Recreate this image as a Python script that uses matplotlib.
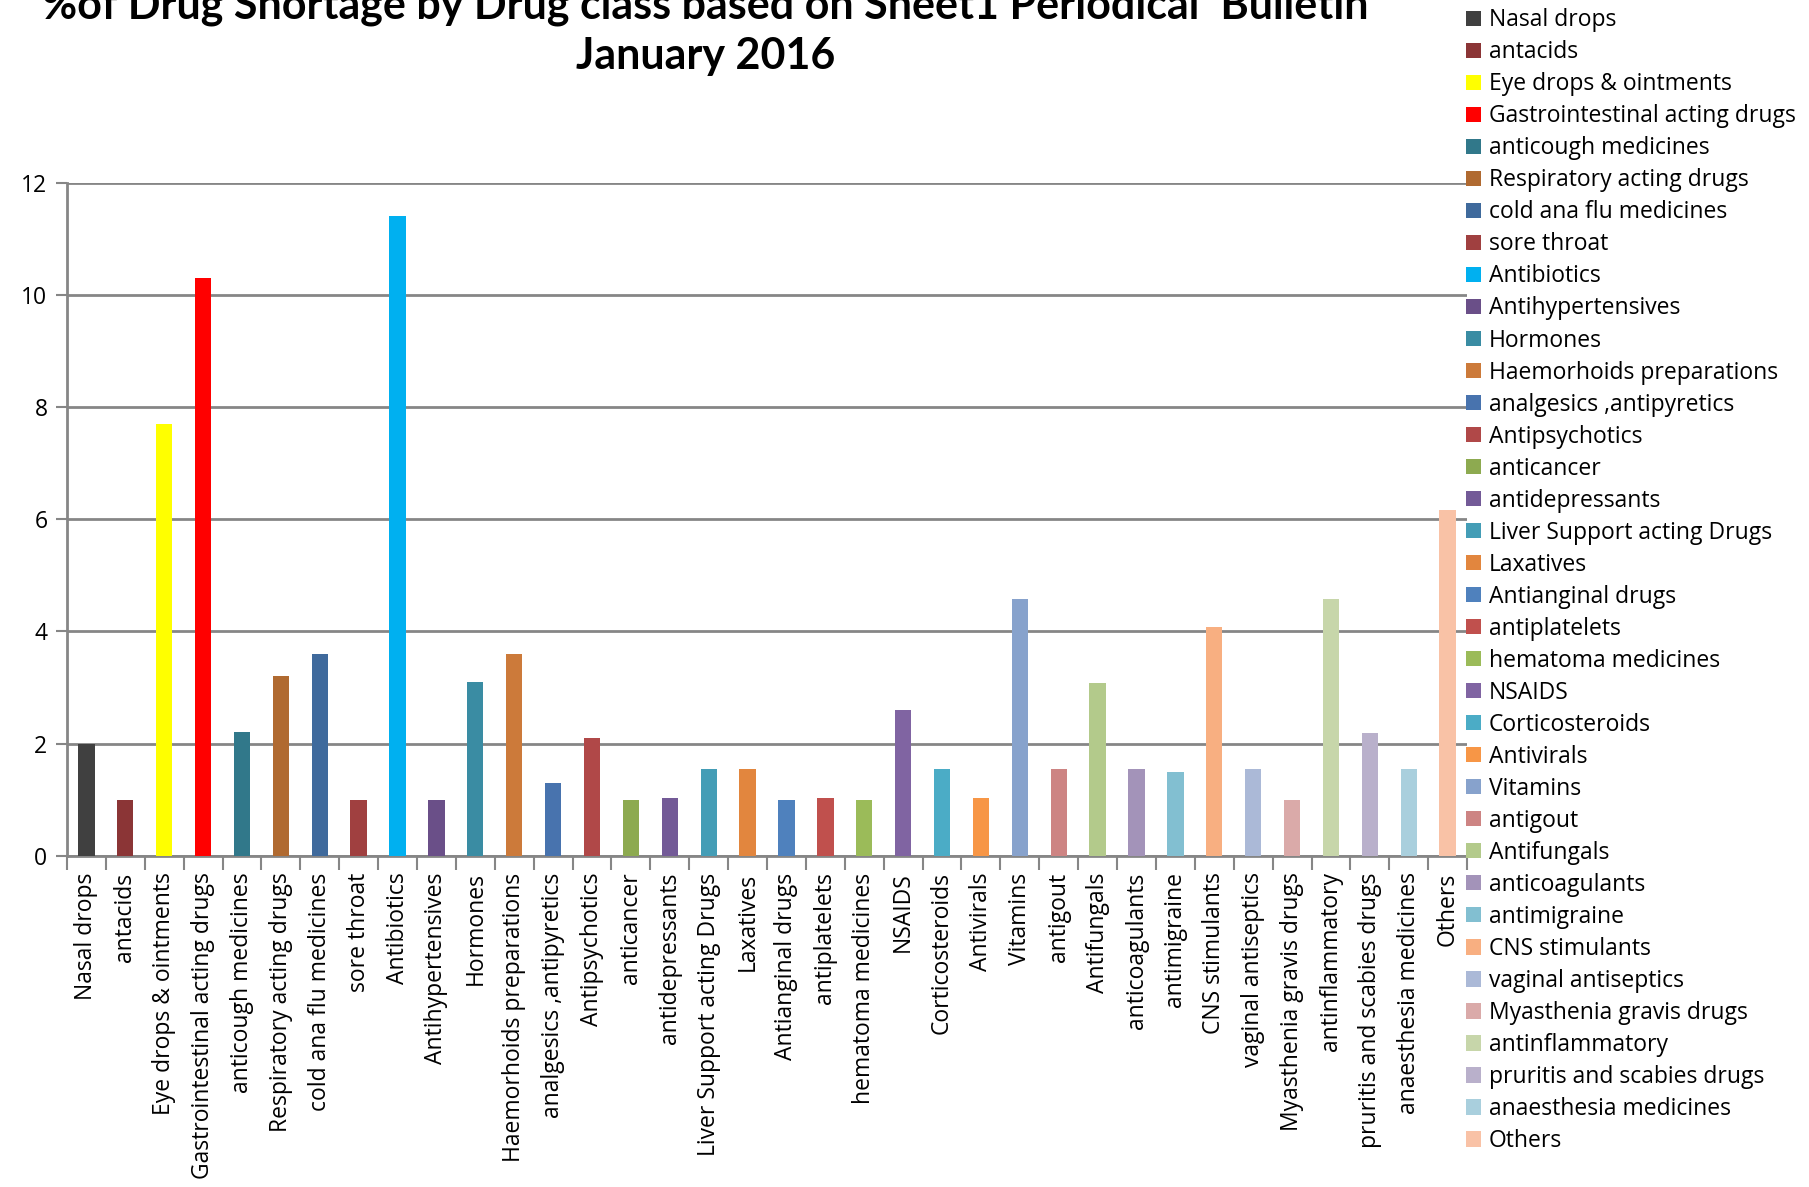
import numpy as np
import matplotlib
matplotlib.use("Agg")
import matplotlib.pyplot as plt
from matplotlib.patches import Patch

plt.rcParams['font.family'] = ['Open Sans', 'DejaVu Sans']

drug_classes = [
    "Nasal drops", "antacids", "Eye drops & ointments", "Gastrointestinal acting drugs",
    "anticough medicines", "Respiratory acting drugs", "cold ana flu medicines", "sore throat",
    "Antibiotics", "Antihypertensives", "Hormones", "Haemorhoids preparations",
    "analgesics ,antipyretics", "Antipsychotics", "anticancer", "antidepressants",
    "Liver Support acting Drugs", "Laxatives", "Antianginal drugs", "antiplatelets",
    "hematoma medicines", "NSAIDS", "Corticosteroids", "Antivirals", "Vitamins",
    "antigout", "Antifungals", "anticoagulants", "antimigraine", "CNS stimulants",
    "vaginal antiseptics", "Myasthenia gravis drugs", "antinflammatory",
    "pruritis and scabies drugs", "anaesthesia medicines", "Others",
]

shortage_pct = [
    2.0, 1.0, 7.7, 10.3, 2.2, 3.2, 3.6, 1.0,
    11.4, 1.0, 3.1, 3.6, 1.3, 2.1, 1.0, 1.03,
    1.54, 1.54, 0.99, 1.03, 0.99, 2.6, 1.54, 1.03, 4.58,
    1.54, 3.08, 1.54, 1.49, 4.08, 1.54, 0.99, 4.58,
    2.19, 1.54, 6.17,
]

bar_colors = [
    "#404040", "#8B3536", "#FFFF00", "#FF0000", "#31788A", "#B06A31", "#3F6A9C", "#A04040",
    "#00B0F0", "#6A4F88", "#3A8CA3", "#CC7A3A", "#4873AE", "#B04848", "#8DAA50", "#735A97",
    "#449DB6", "#E2863E", "#4F81BD", "#C0504D", "#9BBB59", "#8064A2", "#4BACC6", "#F79646",
    "#87A2CC", "#CD8483", "#B3CA8B", "#A393B9", "#82BFD1", "#F8AF81", "#ABB9D7", "#DAAAA9",
    "#C7D6AA", "#B9B0CB", "#A9CFDD", "#F9C2A6",
]

title = "%of Drug Shortage by Drug class based on Sheet1 Periodical  Bulletin\nJanuary 2016"

fig = plt.figure(figsize=(18.09, 11.87), dpi=100)
ax = fig.add_axes([0.037, 0.279, 0.774, 0.567])

x = np.arange(len(drug_classes))
ax.bar(x, shortage_pct, width=0.42, color=bar_colors, zorder=3)

grid_c = "#868686"
ax.set_ylim(0, 12)
ax.set_xlim(-0.5, len(drug_classes) - 0.5)
ax.set_yticks(range(0, 13, 2))
ax.yaxis.grid(True, color=grid_c, linewidth=2, zorder=0)
for s in ["top", "right"]:
    ax.spines[s].set_visible(False)
for s in ["left", "bottom"]:
    ax.spines[s].set_color(grid_c)
    ax.spines[s].set_linewidth(2)

ax.set_xticks(x)
ax.set_xticklabels(drug_classes, rotation=90, fontsize=16.5, va="top")
ax.set_xticks(np.arange(-0.5, len(drug_classes)), minor=True)
ax.tick_params(axis="x", which="major", length=0, pad=12)
ax.tick_params(axis="x", which="minor", length=10, width=1.5, color=grid_c)
ax.tick_params(axis="y", length=8, width=1.5, color=grid_c, labelsize=16.5, pad=6)

fig.text(0.39, 1.012, title, ha="center", va="top", fontsize=31, fontweight="bold",
         family=["Liberation Sans Narrow", "Lato", "DejaVu Sans"], linespacing=1.3)

handles = [Patch(facecolor=c, edgecolor="none") for c in bar_colors]
fig.legend(handles, drug_classes, loc="upper left", bbox_to_anchor=(0.8105, 0.993),
           frameon=False, fontsize=16.5, handlelength=0.65, handleheight=0.65,
           handletextpad=0.35, labelspacing=0.35, borderaxespad=0, borderpad=0)

fig.savefig("out.png", dpi=100)
